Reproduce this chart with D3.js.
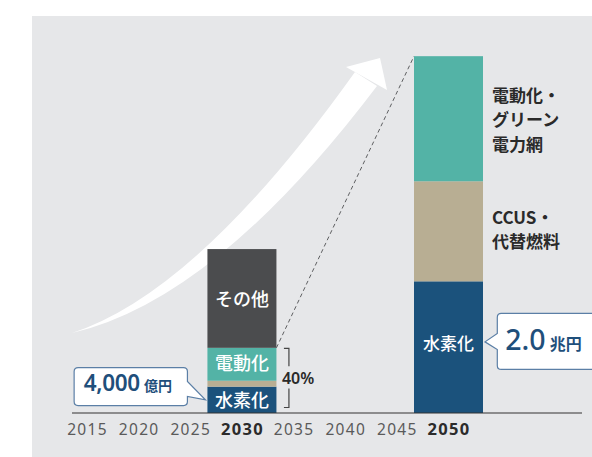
<!DOCTYPE html>
<html>
<head>
<meta charset="utf-8">
<script src="https://cdn.jsdelivr.net/npm/d3@7/dist/d3.min.js"></script>
<style>
  html, body { margin: 0; padding: 0; background: #ffffff; }
  svg { display: block; }
  text { font-family: "Noto Sans CJK JP", "Noto Sans", sans-serif; }
</style>
</head>
<body>
<svg id="chart" width="592" height="457"></svg>
<script>
// Market size by technology (unit: 億円)
const tickYears = [2015, 2020, 2025, 2030, 2035, 2040, 2045, 2050];
const boldYears = [2030, 2050];
const barYears = [2030, 2050];
const hydrogen = [4000, 20000];   // 水素化
const ccusFuel = [900, 15200];    // CCUS・代替燃料
const electric = [5000, 19000];   // 電動化・グリーン電力網
const others = [15000, 0];        // その他

const seriesKeys = ["hydrogen", "ccusFuel", "electric", "others"];
const colors = {
  hydrogen: "#1b527c",
  ccusFuel: "#b8ae93",
  electric: "#53b3a6",
  others: "#4b4c4e"
};

const rows = barYears.map((yr, i) => ({
  year: yr,
  hydrogen: hydrogen[i],
  ccusFuel: ccusFuel[i],
  electric: electric[i],
  others: others[i]
}));

const svg = d3.select("#chart");

// panel background
svg.append("rect").attr("x", 32).attr("y", 16).attr("width", 560).attr("height", 441)
  .attr("fill", "#e6e7e9");

const baseY = 413;
const x = d3.scaleLinear().domain([2015, 2050]).range([87, 448.5]);
const y = d3.scaleLinear().domain([0, 60000]).range([baseY, 18]);
const barW = 69;

// growth arrow
const arrow = svg.append("g").attr("fill", "#ffffff");
arrow.append("path")
  .attr("d", "M72,333 Q198,292 355,72 L377,86 Q215,300 72,333 Z");
arrow.append("path")
  .attr("d", "M346,67 L380,58 L387,90 Z");

const stacked = d3.stack().keys(seriesKeys)(rows);

// dashed guide from the 2030 subtotal to the 2050 total
const sub2030 = hydrogen[0] + ccusFuel[0] + electric[0];
const total2050 = hydrogen[1] + ccusFuel[1] + electric[1] + others[1];
svg.append("line")
  .attr("x1", x(2030) + barW / 2).attr("y1", y(sub2030))
  .attr("x2", x(2050) - barW / 2).attr("y2", y(total2050))
  .attr("stroke", "#5e5f61").attr("stroke-width", 1)
  .attr("stroke-dasharray", "4,3");

// stacked bars
svg.append("g").selectAll("g")
  .data(stacked)
  .join("g")
  .attr("fill", d => colors[d.key])
  .selectAll("rect")
  .data(d => d)
  .join("rect")
  .attr("x", d => x(d.data.year) - barW / 2)
  .attr("y", d => y(d[1]))
  .attr("width", barW)
  .attr("height", d => y(d[0]) - y(d[1]));

// axis line
svg.append("line").attr("x1", 72).attr("x2", 582).attr("y1", baseY).attr("y2", baseY)
  .attr("stroke", "#333333").attr("stroke-width", 1.2);

const xAxis = svg.append("g").attr("transform", `translate(0,${baseY})`)
  .call(d3.axisBottom(x).tickValues(tickYears).tickFormat(d3.format("d")).tickSize(0));
xAxis.select(".domain").remove();
xAxis.selectAll("text")
  .attr("y", 21.5).attr("dy", 0)
  .style("font-family", "'Noto Sans', sans-serif")
  .style("font-size", d => boldYears.includes(d) ? "16.5px" : "15.5px")
  .style("font-weight", d => boldYears.includes(d) ? "700" : "400")
  .style("letter-spacing", "1.3px")
  .attr("fill", d => boldYears.includes(d) ? "#2b2b2b" : "#5a5a5a");

// labels inside bars
function segMid(key, i) {
  const s = stacked.find(d => d.key === key)[i];
  return (y(s[0]) + y(s[1])) / 2;
}
const inner = [
  { key: "others", i: 0, text: "その他", size: 18 },
  { key: "electric", i: 0, text: "電動化", size: 18, dy: -2 },
  { key: "hydrogen", i: 0, text: "水素化", size: 18, dy: -1 },
  { key: "hydrogen", i: 1, text: "水素化", size: 17, dy: -5 }
];
svg.append("g").selectAll("text")
  .data(inner)
  .join("text")
  .attr("x", d => x(barYears[d.i]))
  .attr("y", d => segMid(d.key, d.i) + (d.dy || 0))
  .attr("text-anchor", "middle")
  .attr("dominant-baseline", "central")
  .attr("fill", "#ffffff")
  .style("font-size", d => d.size + "px")
  .style("font-weight", 500)
  .text(d => d.text);

// side labels for the 2050 bar
const side = [
  { key: "electric", lines: ["電動化・", "グリーン", "電力網"], dy: 0 },
  { key: "ccusFuel", lines: ["CCUS・", "代替燃料"], dy: -3 }
];
const sideG = svg.append("g");
side.forEach(s => {
  const cy = segMid(s.key, 1) + s.dy;
  const lh = 24.3;
  s.lines.forEach((ln, k) => {
    sideG.append("text")
      .attr("x", x(2050) + barW / 2 + 9)
      .attr("y", cy + (k - (s.lines.length - 1) / 2) * lh)
      .attr("dominant-baseline", "central")
      .attr("fill", "#2a2a2a")
      .style("font-size", "17px")
      .style("font-weight", 600)
      .text(ln);
  });
});

// 40% bracket
const pct = Math.round(sub2030 / (sub2030 + others[0]) * 100);
const bx = x(2030) + barW / 2 + 12.5;
const bTop = y(sub2030) + 0.5;
const bBot = baseY - 5.5;
const br = svg.append("g").attr("stroke", "#444").attr("stroke-width", 1.2).attr("fill", "none");
br.append("path").attr("d", `M${bx - 5},${bTop} H${bx} V${bTop + 18}`);
br.append("path").attr("d", `M${bx},${bBot - 19} V${bBot} H${bx - 5}`);
svg.append("text")
  .attr("x", bx - 7).attr("y", (bTop + bBot) / 2 + 0.5)
  .attr("dominant-baseline", "central")
  .attr("fill", "#2a2a2a")
  .style("font-family", "'Noto Sans', sans-serif")
  .style("font-size", "16px")
  .style("font-weight", 600)
  .text(pct + "%");

// callouts
const calloutStroke = "#5b7fa6";
const valueColor = "#1f4f7b";

// 2030 hydrogen callout (points right)
{
  const tipX = x(2030) - barW / 2 - 2;
  const tipY = segMid("hydrogen", 0);
  const right = tipX - 18, left = right - 113.3, top = tipY - 32.3, bottom = tipY + 5.7, r = 4;
  const p = `M${left + r},${top} H${right - r} Q${right},${top} ${right},${top + r} V${tipY - 18.3} L${tipX},${tipY} L${right},${tipY - 3.3} V${bottom - r} Q${right},${bottom} ${right - r},${bottom} H${left + r} Q${left},${bottom} ${left},${bottom - r} V${top + r} Q${left},${top} ${left + r},${top} Z`;
  svg.append("path").attr("d", p).attr("fill", "#ffffff").attr("stroke", calloutStroke).attr("stroke-width", 1.2);
  const t = svg.append("text").attr("x", left + 9.5).attr("y", tipY - 8.5).attr("fill", valueColor);
  t.append("tspan").style("font-family", "'Noto Sans', sans-serif").style("font-size", "22.5px").style("font-weight", 600)
    .style("letter-spacing", "-0.3px")
    .text(d3.format(",")(hydrogen[0]));
  t.append("tspan").attr("dx", 4).style("font-size", "14px").style("font-weight", 700).text("億円");
}

// 2050 hydrogen callout (points left)
{
  const tipX = x(2050) + barW / 2 + 2;
  const tipY = segMid("hydrogen", 1) - 5.3;
  const left = tipX + 12.3, right = 610, top = tipY - 28.4, bottom = tipY + 27.6, r = 4;
  const p = `M${left + r},${top} H${right} V${bottom} H${left + r} Q${left},${bottom} ${left},${bottom - r} V${tipY + 7.6} L${tipX},${tipY} L${left},${tipY - 8.4} V${top + r} Q${left},${top} ${left + r},${top} Z`;
  svg.append("path").attr("d", p).attr("fill", "#ffffff").attr("stroke", calloutStroke).attr("stroke-width", 1.2);
  const t = svg.append("text").attr("x", left + 8).attr("y", tipY + 8).attr("fill", valueColor);
  t.append("tspan").style("font-family", "'Noto Sans', sans-serif").style("font-size", "28.5px").style("font-weight", 500)
    .text(d3.format(".1f")(hydrogen[1] / 10000));
  t.append("tspan").attr("dx", 4).style("font-size", "16px").style("font-weight", 700).text("兆円");
}
</script>
</body>
</html>
